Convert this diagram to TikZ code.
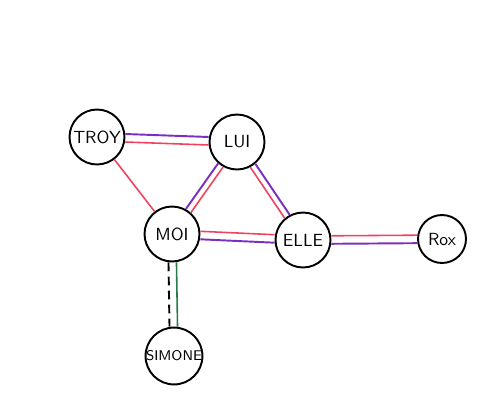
\documentclass[tikz,border=0pt]{standalone}
\usepackage{tikz}
\usetikzlibrary{positioning}
\definecolor{tiepurple}{HTML}{7B2FC0}
\definecolor{tiepink}{HTML}{F0425E}
\definecolor{tiegreen}{HTML}{2A7A4C}

\begin{document}
\begin{tikzpicture}[x=0.02cm, y=-0.02cm, semithick,
    person/.style={circle, draw, line width=1.1pt, minimum size=1.1cm, inner sep=0pt, font=\sffamily},
    pk/.style={tiepink, line width=0.9pt},
    pu/.style={tiepurple, line width=1.1pt}]
    \path[use as bounding box] (0,0) rectangle (500,406);
    \node[person] (troy) at (97,137) {TROY};
    \node[person] (lui) at (237,142) {LUI};
    \node[person] (moi) at (172,234) {MOI};
    \node[person] (elle) at (303,240) {ELLE};
    \node[person, minimum size=0.96cm] (rox) at (442,239) {Rox};
    \node[person] (simone) at (174,356) {\footnotesize SIMONE};
    % troy -- lui
    \draw[pu, transform canvas={shift={(0,-4)}}] (troy) -- (lui);
    \draw[pk, transform canvas={shift={(0,4)}}] (troy) -- (lui);
    \draw[pk] (troy) -- (moi);
    % lui -- moi
    \draw[pu, transform canvas={shift={(-2.5,-1.8)}}] (lui) -- (moi);
    \draw[pk, transform canvas={shift={(2.5,1.8)}}] (lui) -- (moi);
    % lui -- elle
    \draw[pk, transform canvas={shift={(-2.5,1.7)}}] (lui) -- (elle);
    \draw[pu, transform canvas={shift={(2.5,-1.7)}}] (lui) -- (elle);
    % moi -- elle, elle -- rox
    \draw[pk, transform canvas={shift={(0,-4)}}] (moi) -- (elle);
    \draw[pu, transform canvas={shift={(0,4)}}] (moi) -- (elle);
    \draw[pk, transform canvas={shift={(0,-4)}}] (elle) -- (rox);
    \draw[pu, transform canvas={shift={(0,4)}}] (elle) -- (rox);
    % moi -- simone
    \draw[line width=1.1pt, dash pattern=on 5pt off 3pt, transform canvas={shift={(-4,0)}}] (moi) -- (simone);
    \draw[tiegreen, line width=0.9pt, transform canvas={shift={(4,0)}}] (moi) -- (simone);
\end{tikzpicture}
\end{document}
